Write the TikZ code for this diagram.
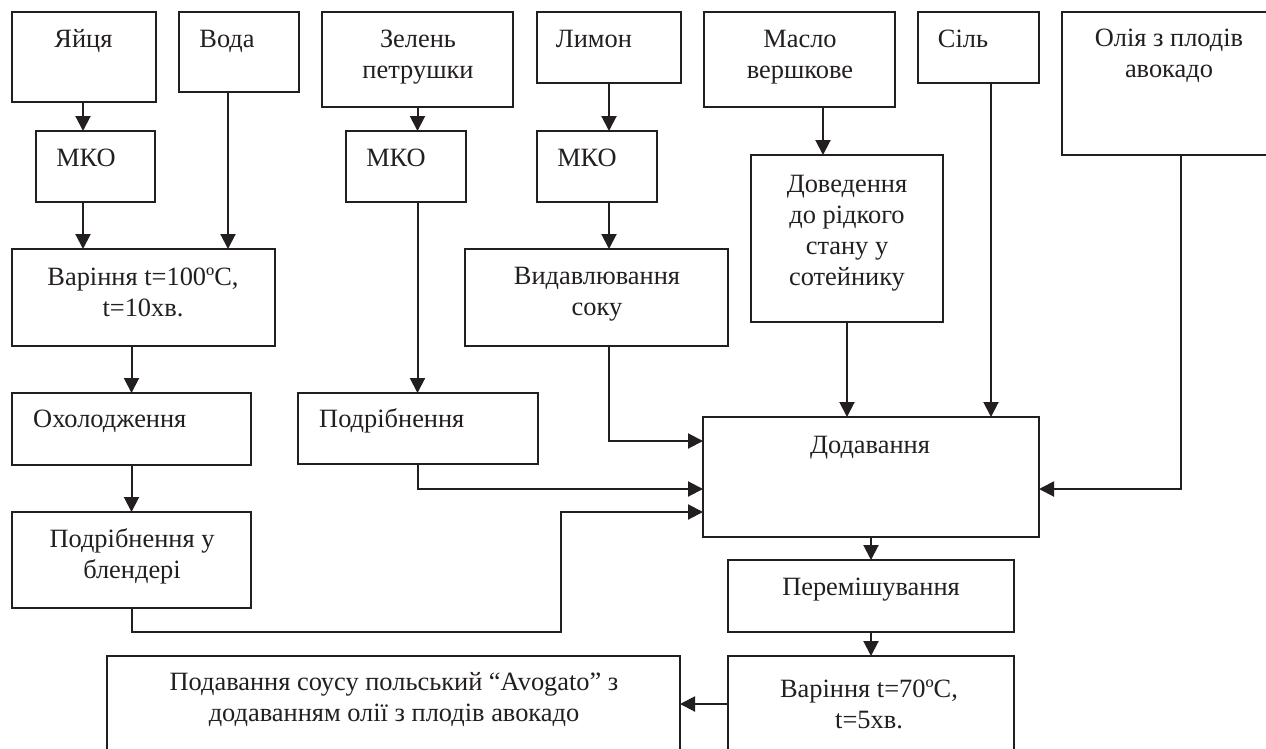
\documentclass[tikz,border=0pt]{standalone}
\usepackage{fontspec}
\setmainfont{Liberation Serif}
\usetikzlibrary{arrows.meta,calc}
\definecolor{ink}{HTML}{231F20}
\begin{document}
\begin{tikzpicture}[x=1pt,y=-1pt,
  box/.style={draw=ink, line width=2pt, inner sep=0pt, outer sep=0pt, anchor=north west, rectangle},
  txt/.style={inner sep=0pt, font=\fontsize{26.4}{31}\selectfont, align=center, anchor=base, text=ink},
  arr/.style={draw=ink, line width=2pt, -{Triangle[length=15pt,width=15pt]}}]
\clip (0,0) rectangle (1266,748);
\fill[white] (0,0) rectangle (1266,748);
% boxes
\node[box, minimum width=144pt, minimum height=90pt] (yai) at (12,12) {};
\node[box, minimum width=120pt, minimum height=80pt] (voda) at (179,12) {};
\node[box, minimum width=191pt, minimum height=95pt] (zelen) at (322,12) {};
\node[box, minimum width=144pt, minimum height=71pt] (lymon) at (537,12) {};
\node[box, minimum width=191pt, minimum height=95pt] (maslo) at (704,12) {};
\node[box, minimum width=121pt, minimum height=71pt] (sil) at (918,12) {};
\node[box, minimum width=220pt, minimum height=143pt] (oliya) at (1062,12) {};
\node[box, minimum width=119pt, minimum height=71pt] (mko1) at (36,131) {};
\node[box, minimum width=120pt, minimum height=71pt] (mko2) at (346,131) {};
\node[box, minimum width=120pt, minimum height=71pt] (mko3) at (537,131) {};
\node[box, minimum width=192pt, minimum height=167pt] (dov) at (751,155) {};
\node[box, minimum width=263pt, minimum height=97pt] (var1) at (12,249) {};
\node[box, minimum width=263pt, minimum height=97pt] (vyd) at (465,249) {};
\node[box, minimum width=239pt, minimum height=72pt] (okh) at (12,393) {};
\node[box, minimum width=240pt, minimum height=71pt] (podr) at (298,393) {};
\node[box, minimum width=239pt, minimum height=96pt] (blend) at (12,512) {};
\node[box, minimum width=336pt, minimum height=120pt] (dod) at (703,417) {};
\node[box, minimum width=286pt, minimum height=72pt] (per) at (728,560) {};
\node[box, minimum width=286pt, minimum height=110pt] (var2) at (728,656) {};
\node[box, minimum width=573pt, minimum height=110pt] (podav) at (107,656) {};
% texts (base anchor = baseline of the last line)
\node[txt] (tyai) at (83.5,47) {Яйця};
\node[txt] (tvoda) at (227,47) {Вода};
\node[txt] (tzelen) at (418,78) {Зелень\\петрушки};
\node[txt] (tlymon) at (594,47) {Лимон};
\node[txt] (tmaslo) at (800,78) {Масло\\вершкове};
\node[txt] (tsil) at (963,47) {Сіль};
\node[txt] (toliya) at (1169,77) {Олія з плодів\\авокадо};
\node[txt] (tmko1) at (86,166) {МКО};
\node[txt] (tmko2) at (396,166) {МКО};
\node[txt] (tmko3) at (587,166) {МКО};
\node[txt] (tdov) at (847,285) {Доведення\\до рідкого\\стану у\\сотейнику};
\node[txt] (tvar1) at (143,316) {Варіння t=100ºС,\\t=10хв.};
\node[txt] (tvyd) at (597,315) {Видавлювання\\соку};
\node[txt, anchor=base west] (tokh) at (33,427) {Охолодження};
\node[txt, anchor=base west] (tpodr) at (319,427) {Подрібнення};
\node[txt] (tblend) at (132,578) {Подрібнення у\\блендері};
\node[txt] (tdod) at (870,453) {Додавання};
\node[txt] (tper) at (871,595) {Перемішування};
\node[txt] (tvar2) at (869,728) {Варіння t=70ºС,\\t=5хв.};
\node[txt] (tpodav) at (394,721) {Подавання соусу польський “Avogato” з\\додаванням олії з плодів авокадо};
% connectors
\coordinate (oliyaout) at (1181,155);
\draw[arr] ([xshift=-1pt]yai.south) -- ([xshift=-1pt]yai.south |- mko1.north);
\draw[arr] ([xshift=-1pt]yai.south |- mko1.south) -- ([xshift=-1pt]yai.south |- var1.north);
\draw[arr] ([xshift=-11pt]voda.south) -- ([xshift=-11pt]voda.south |- var1.north);
\draw[arr] (zelen.south) -- (zelen.south |- mko2.north);
\draw[arr] (zelen.south |- mko2.south) -- (zelen.south |- podr.north);
\draw[arr] (lymon.south) -- (lymon.south |- mko3.north);
\draw[arr] (lymon.south |- mko3.south) -- (lymon.south |- vyd.north);
\draw[arr] ([xshift=23.5pt]maslo.south) -- ([xshift=23.5pt]maslo.south |- dov.north);
\draw[arr] (dov.south) -- (dov.south |- dod.north);
\draw[arr] ([xshift=12.5pt]sil.south) -- ([xshift=12.5pt]sil.south |- dod.north);
\draw[arr] (oliyaout) -- (oliyaout |- 0,489) -- (dod.east |- 0,489);
\draw[arr] (lymon.south |- vyd.south) -- (lymon.south |- 0,441) -- (dod.west |- 0,441);
\draw[arr] (zelen.south |- podr.south) -- (zelen.south |- 0,489) -- (dod.west |- 0,489);
\draw[arr] (blend.south) -- (blend.south |- 0,632) -- (561,632) -- (561,512) -- (dod.west |- 0,512);
\draw[arr] (blend.north |- var1.south) -- (blend.north |- okh.north);
\draw[arr] (blend.north |- okh.south) -- (blend.north);
\draw[arr] (dod.south) -- (dod.south |- per.north);
\draw[arr] (dod.south |- per.south) -- (dod.south |- var2.north);
\draw[arr] (var2.west |- 0,704) -- (podav.east |- 0,704);
\end{tikzpicture}
\end{document}
